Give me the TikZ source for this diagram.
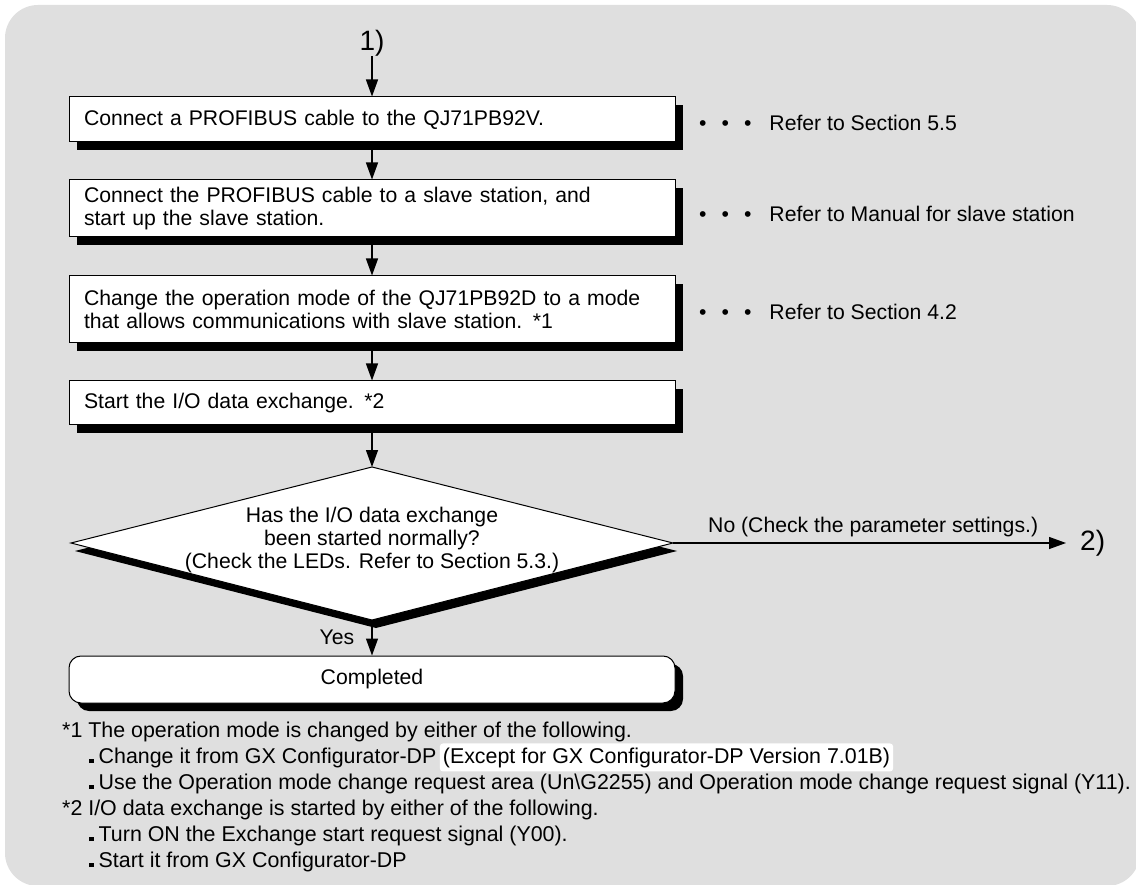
\documentclass[tikz,border=0pt]{standalone}
\usepackage{fontspec}
\setmainfont{Liberation Sans}
\usetikzlibrary{arrows.meta,positioning,shadows}

\definecolor{panelgray}{RGB}{223,223,223}
\newcommand\mainsize{\fontsize{21.2pt}{23pt}\selectfont}
\newcommand\notesize{\fontsize{21.4pt}{23pt}\selectfont}
\newcommand\refdots{\textbullet\hspace{15pt}\textbullet\hspace{15pt}\textbullet\hspace{18pt}}
\newcommand\fbullet{\rule{4.5pt}{4.5pt}\hspace{5pt}}

\tikzset{
  flowarrow/.style={-{Triangle[length=17pt,width=12pt]}, line width=1.3pt},
  blackshadow/.style={general shadow={shadow xshift=8pt, shadow yshift=-8pt, fill=black}},
  stepbox/.style={draw=black, fill=white, line width=1pt, text width=576pt,
    inner xsep=15pt, inner ysep=0pt, align=left, font=\mainsize, blackshadow},
  endbox/.style={draw=black, fill=white, line width=1pt, rounded corners=12pt,
    minimum width=606pt, minimum height=47pt, font=\mainsize, blackshadow},
  refnote/.style={anchor=west, inner sep=0pt, font=\mainsize},
  fnote/.style={anchor=base west, inner sep=0pt, font=\notesize},
  bignum/.style={inner sep=0pt, font=\fontsize{28pt}{30pt}\selectfont},
}

\begin{document}
\begin{tikzpicture}[x=1pt, y=-1pt]
  \useasboundingbox (0,0) rectangle (1136,885);
  \fill[panelgray, rounded corners=33pt] (5,5) rectangle (1140,886);

  % flow steps
  \node[bignum] (n1) at (372,43) {1)};
  \node[stepbox, minimum height=45pt] (b1) at (372,119.5) {Connect a PROFIBUS cable to the QJ71PB92V.};
  \node[stepbox, minimum height=57pt] (b2) at (372,208.5) {Connect the PROFIBUS cable to a slave station, and\\start up the slave station.};
  \node[stepbox, minimum height=67pt] (b3) at (372,309.5) {Change the operation mode of the QJ71PB92D to a mode\\that allows communications with slave station. *1};
  \node[stepbox, minimum height=44pt] (b4) at (372,403) {Start the I/O data exchange. *2};

  % decision
  \coordinate (dN) at (372,467);
  \coordinate (dE) at (673,543);
  \coordinate (dS) at (372,620);
  \coordinate (dW) at (71,543);
  \fill[black] ([shift={(4,8)}]dN) -- ([shift={(4,8)}]dE) -- ([shift={(4,8)}]dS) -- ([shift={(4,8)}]dW) -- cycle;
  \draw[fill=white, line width=1pt] (dN) -- (dE) -- (dS) -- (dW) -- cycle;
  \node[align=center, font=\mainsize, inner sep=0pt] (chk) at (372,540)
    {Has the I/O data exchange\\been started normally?\\(Check the LEDs. Refer to Section 5.3.)};

  \node[endbox] (fin) at (372,679.5) {Completed};
  \node[bignum, anchor=west] (n2) at (1080,543) {2)};

  % connectors
  \draw[flowarrow] (n1.south) -- (b1.north);
  \draw[flowarrow] (b1.south) -- (b2.north);
  \draw[flowarrow] (b2.south) -- (b3.north);
  \draw[flowarrow] (b3.south) -- (b4.north);
  \draw[flowarrow] (b4.south) -- (dN);
  \draw[flowarrow] (dS) -- (fin.north);
  \draw[flowarrow, shorten >=14pt] (dE) -- (n2.west);
  \node[font=\mainsize, inner sep=0pt] (yes) at (337,637) {Yes};
  \node[refnote] (no) at (708,527) {No (Check the parameter settings.)};

  % references
  \node[refnote] (r1) at (699,123) {\refdots Refer to Section 5.5};
  \node[refnote] (r2) at (699,214) {\refdots Refer to Manual for slave station};
  \node[refnote] (r3) at (699,312) {\refdots Refer to Section 4.2};

  % footnotes
  \node[fnote] (f1) at (62,737) {*1 The operation mode is changed by either of the following.};
  \node[fnote] (f1b) at (89,763) {\fbullet Change it from GX Configurator-DP};
  \node[fnote, fill=white, inner xsep=3pt, inner ysep=4pt, rounded corners=3pt] (f1x)
    at ([xshift=3pt]f1b.base east) {(Except for GX Configurator-DP Version 7.01B)\hspace{42pt}};
  \node[fnote] (f1c) at (89,789) {\fbullet Use the Operation mode change request area (Un\textbackslash G2255) and Operation mode change request signal (Y11).};
  \node[fnote] (f2) at (62,815) {*2 I/O data exchange is started by either of the following.};
  \node[fnote] (f2a) at (89,841) {\fbullet Turn ON the Exchange start request signal (Y00).};
  \node[fnote] (f2b) at (89,867) {\fbullet Start it from GX Configurator-DP};
\end{tikzpicture}
\end{document}
